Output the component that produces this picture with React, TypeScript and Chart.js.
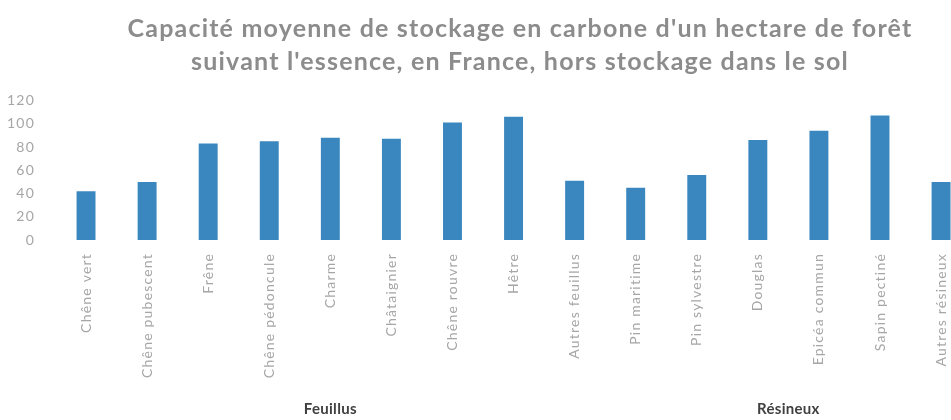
import React, { useEffect, useRef } from "react";
import { Chart, registerables } from "chart.js";

Chart.register(...registerables);

const titleLines = [
  "Capacité moyenne de stockage en carbone d'un hectare de forêt",
  "suivant l'essence, en France, hors stockage dans le sol",
];

const categories = [
  "Chêne vert",
  "Chêne pubescent",
  "Frêne",
  "Chêne pédoncule",
  "Charme",
  "Châtaignier",
  "Chêne rouvre",
  "Hêtre",
  "Autres feuillus",
  "Pin maritime",
  "Pin sylvestre",
  "Douglas",
  "Epicéa commun",
  "Sapin pectiné",
  "Autres résineux",
];

const values = [42, 50, 83, 85, 88, 87, 101, 106, 51, 45, 56, 86, 94, 107, 50];

const groupLabels = ["Feuillus", "Résineux"];
const groupStart = [0, 9];
const groupEnd = [8, 14];

const yMin = 0;
const yMax = 120;
const yStep = 20;

const FONT = "Lato, 'Open Sans', sans-serif";

const spacingPlugin = {
  id: "letterSpacing",
  beforeUpdate(chart: any) {
    chart.ctx.letterSpacing = "0.7px";
  },
  beforeDraw(chart: any) {
    chart.ctx.letterSpacing = "0.7px";
  },
};

const titleSpacingPlugin = {
  id: "titleSpacing",
  beforeDraw(chart: any) {
    chart.ctx.letterSpacing = "1.2px";
  },
  beforeDatasetsDraw(chart: any) {
    chart.ctx.letterSpacing = "0.7px";
  },
};

const groupPlugin = {
  id: "groupLabels",
  afterDraw(chart: any) {
    const x = chart.scales.x;
    const ctx = chart.ctx;
    ctx.save();
    ctx.letterSpacing = "0.3px";
    ctx.font = `bold 15px ${FONT}`;
    ctx.fillStyle = "#404040";
    ctx.textAlign = "center";
    ctx.textBaseline = "middle";
    groupLabels.forEach((label, i) => {
      const cx = (x.getPixelForValue(groupStart[i]) + x.getPixelForValue(groupEnd[i])) / 2;
      ctx.fillText(label, cx, 409);
    });
    ctx.restore();
  },
};

export default function App() {
  const ref = useRef<HTMLCanvasElement | null>(null);

  useEffect(() => {
    if (!ref.current) return;
    const chart = new Chart(ref.current, {
      type: "bar",
      data: {
        labels: categories,
        datasets: [
          {
            data: values,
            backgroundColor: "#3a87bf",
            borderWidth: 0,
            barPercentage: 0.31,
            categoryPercentage: 1,
          },
        ],
      },
      options: {
        responsive: false,
        animation: false,
        layout: { padding: { left: 0, right: 0, top: 0, bottom: 0 } },
        plugins: {
          legend: { display: false },
          tooltip: { enabled: false },
          title: {
            display: true,
            text: titleLines,
            fullSize: true,
            color: "#8c8c8c",
            font: { family: FONT, size: 25, weight: "bold", lineHeight: 1.32 },
            padding: { top: 12, bottom: 22.5 },
          },
        },
        scales: {
          x: {
            grid: { display: false, drawTicks: false },
            border: { display: false },
            ticks: {
              color: "#a6a6a6",
              font: { family: FONT, size: 14 },
              minRotation: 90,
              maxRotation: 90,
              autoSkip: false,
              padding: 13,
            },
            afterFit(scale: any) {
              scale.height = 180;
            },
          },
          y: {
            min: yMin,
            max: yMax,
            grid: { display: false, drawTicks: false },
            border: { display: false },
            ticks: {
              stepSize: yStep,
              color: "#a6a6a6",
              font: { family: FONT, size: 14 },
              padding: 20.5,
            },
            afterFit(scale: any) {
              scale.width = 55.5;
            },
          },
          spacer: {
            type: "linear",
            position: "right",
            display: true,
            grid: { display: false, drawTicks: false },
            border: { display: false },
            ticks: { display: false },
            afterFit(scale: any) {
              scale.width = 68.4;
            },
          },
        },
      },
      plugins: [spacingPlugin, titleSpacingPlugin, groupPlugin],
    });
    return () => chart.destroy();
  }, []);

  return (
    <div
      style={{
        position: "fixed",
        left: 0,
        top: 0,
        width: 951,
        height: 420,
        overflow: "hidden",
        background: "#ffffff",
      }}
    >
      <canvas ref={ref} width={1040} height={420} style={{ display: "block", width: 1040, height: 420 }} />
    </div>
  );
}
